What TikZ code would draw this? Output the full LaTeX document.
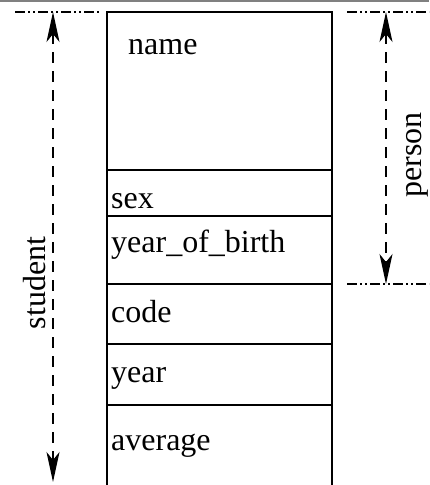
\documentclass[tikz,border=0pt]{standalone}
\usepackage{fontspec}
\setmainfont{Liberation Serif}
\usetikzlibrary{arrows.meta}
\begin{document}
\begin{tikzpicture}[x=1pt,y=-1pt,
  boxline/.style={line width=1.3pt},
  thickline/.style={line width=2.4pt},
  field/.style={anchor=base west,inner sep=0pt,font=\fontsize{32}{32}\selectfont},
  dimlabel/.style={inner sep=0pt,rotate=90,font=\fontsize{32}{32}\selectfont},
  dashdot/.style={line width=1.2pt,dash pattern=on 10pt off 3pt on 2pt off 3pt on 2pt off 3pt},
  dimarrow/.style={line width=1.3pt,dash pattern=on 11pt off 8pt,
    {Stealth[length=30pt,width=13pt,inset=8pt]}-{Stealth[length=30pt,width=13pt,inset=8pt]}}
]
\useasboundingbox (0,0) rectangle (429,485);
\draw[line width=1.5pt,gray] (0,0.75) -- (429,0.75);
% box
\draw[boxline] (107,485) -- (107,12) -- (332,12) -- (332,485);
\draw[boxline] (107,170) -- (332,170);
\draw[boxline] (107,216) -- (332,216);
\draw[thickline] (107,284) -- (332,284);
\draw[boxline] (107,344) -- (332,344);
\draw[boxline] (107,405) -- (332,405);
% fields
\node[field] (name) at (128,54) {name};
\node[field] (sex) at (111,208) {sex};
\node[field] (yob) at (111,252) {year\_of\_birth};
\node[field] (code) at (111,322) {code};
\node[field] (year) at (111,382) {year};
\node[field] (avg) at (111,450) {average};
% extension lines
\coordinate (tl1) at (15,12); \coordinate (tl2) at (100,12);
\coordinate (tr1) at (347,12); \coordinate (tr2) at (429,12);
\coordinate (mr1) at (347,284); \coordinate (mr2) at (429,284);
\draw[dashdot] (tl1) -- (tl2);
\draw[dashdot] (tr1) -- (tr2);
\draw[dashdot] (mr1) -- (mr2);
% dimension arrows
\coordinate (sTop) at (53,12); \coordinate (sBot) at (53,482);
\coordinate (pTop) at (386,12); \coordinate (pBot) at (386,284);
\draw[dimarrow] (sTop) -- (sBot);
\draw[dimarrow] (pTop) -- (pBot);
\node[dimlabel] (student) at (35,283) {student};
\node[dimlabel] (person) at (417,155) {person};
\end{tikzpicture}
\end{document}
